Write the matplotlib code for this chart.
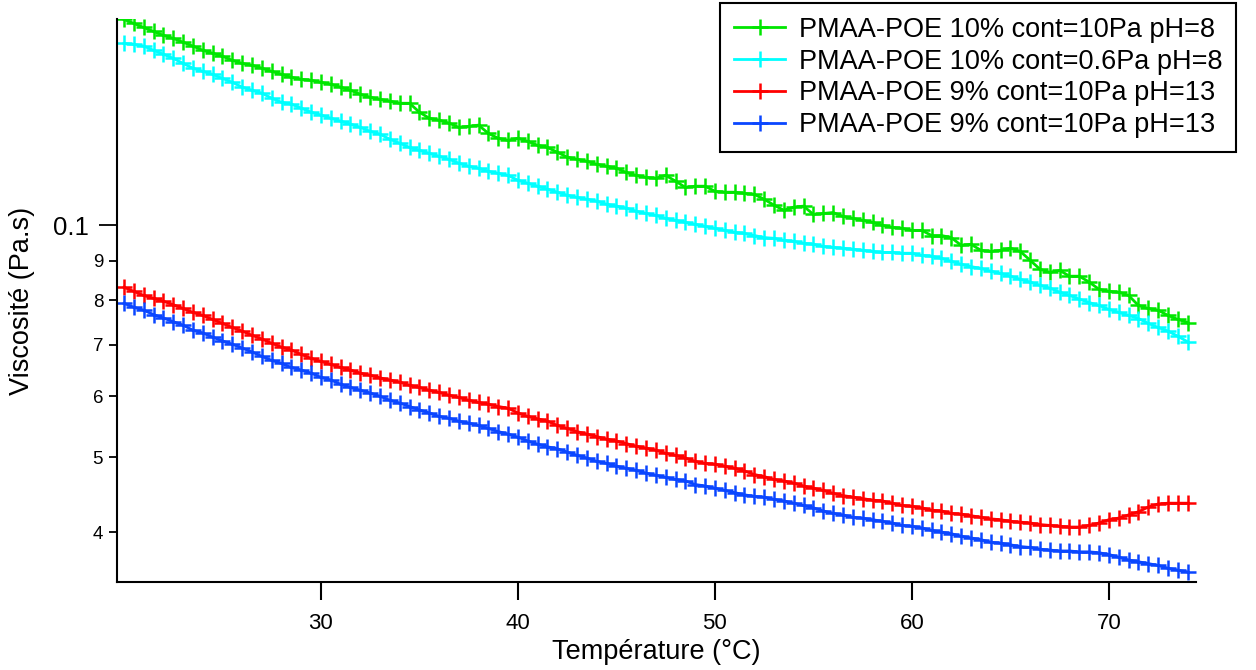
import numpy as np
import matplotlib
matplotlib.use("Agg")
import matplotlib.pyplot as plt
from matplotlib.ticker import FixedLocator, FixedFormatter, NullFormatter

plt.rcParams['font.family'] = ['Liberation Sans', 'DejaVu Sans']

# temperature (°C), one reading every 0.5 °C
temperature = [20.0, 20.5, 21.0, 21.5, 22.0, 22.5, 23.0, 23.5, 24.0, 24.5,
               25.0, 25.5, 26.0, 26.5, 27.0, 27.5, 28.0, 28.5, 29.0, 29.5,
               30.0, 30.5, 31.0, 31.5, 32.0, 32.5, 33.0, 33.5, 34.0, 34.5,
               35.0, 35.5, 36.0, 36.5, 37.0, 37.5, 38.0, 38.5, 39.0, 39.5,
               40.0, 40.5, 41.0, 41.5, 42.0, 42.5, 43.0, 43.5, 44.0, 44.5,
               45.0, 45.5, 46.0, 46.5, 47.0, 47.5, 48.0, 48.5, 49.0, 49.5,
               50.0, 50.5, 51.0, 51.5, 52.0, 52.5, 53.0, 53.5, 54.0, 54.5,
               55.0, 55.5, 56.0, 56.5, 57.0, 57.5, 58.0, 58.5, 59.0, 59.5,
               60.0, 60.5, 61.0, 61.5, 62.0, 62.5, 63.0, 63.5, 64.0, 64.5,
               65.0, 65.5, 66.0, 66.5, 67.0, 67.5, 68.0, 68.5, 69.0, 69.5,
               70.0, 70.5, 71.0, 71.5, 72.0, 72.5, 73.0, 73.5, 74.0]

# viscosities in mPa.s
visc_10pc_10pa = [185.0, 182.8, 180.6, 178.5, 176.4, 174.8, 172.8, 170.8, 168.7, 167.2,
                  165.7, 163.7, 162.2, 161.3, 159.9, 158.4, 157.0, 155.6, 154.7, 154.2,
                  153.3, 152.4, 151.1, 149.7, 147.9, 146.6, 145.7, 144.9, 144.0, 144.0,
                  140.2, 137.7, 136.9, 135.7, 134.0, 134.4, 134.9, 131.6, 129.7, 128.9,
                  129.7, 128.5, 127.0, 126.2, 124.4, 122.6, 121.8, 121.1, 120.0, 119.3,
                  118.6, 117.1, 116.1, 115.4, 115.1, 116.1, 114.1, 112.0, 112.4, 112.4,
                  110.7, 110.4, 110.4, 110.0, 109.7, 108.1, 106.2, 104.6, 105.6, 105.9,
                  103.3, 103.6, 103.9, 102.7, 102.1, 101.5, 100.9, 100.0, 99.4, 99.1,
                  98.5, 98.5, 97.0, 97.0, 96.4, 94.2, 94.5, 92.8, 92.5, 92.8,
                  93.4, 92.5, 90.1, 87.7, 86.9, 87.4, 85.9, 85.9, 84.4, 82.6,
                  82.1, 81.9, 81.1, 78.7, 78.0, 77.6, 76.4, 75.5, 74.8]

visc_10pc_06pa = [172.2, 171.7, 170.8, 168.7, 166.7, 164.7, 162.2, 159.9, 158.4, 157.0,
                  155.1, 153.3, 151.1, 149.7, 148.4, 146.2, 144.4, 143.6, 141.9, 140.2,
                  139.0, 137.7, 136.5, 135.3, 134.0, 132.4, 131.3, 129.3, 127.8, 126.2,
                  125.1, 124.0, 122.9, 121.8, 120.4, 119.3, 118.6, 117.5, 116.8, 116.1,
                  114.4, 113.4, 112.4, 111.4, 110.4, 109.4, 108.7, 108.1, 107.5, 106.5,
                  105.9, 105.3, 104.3, 103.6, 103.0, 102.1, 101.5, 100.9, 100.3, 99.7,
                  99.1, 98.5, 97.9, 97.6, 97.0, 96.4, 96.2, 95.6, 95.3, 94.8,
                  94.5, 93.9, 93.6, 93.4, 93.1, 92.8, 92.5, 92.2, 92.2, 92.0,
                  92.0, 91.4, 91.2, 90.6, 89.8, 89.0, 88.4, 87.9, 87.2, 86.6,
                  85.9, 85.1, 84.4, 83.6, 82.9, 81.9, 81.1, 80.2, 79.4, 78.7,
                  77.8, 77.1, 76.4, 75.7, 74.6, 73.7, 72.9, 71.8, 70.6]

visc_9pc_a = [83.1, 82.1, 81.1, 80.4, 79.7, 78.9, 78.0, 77.1, 76.4, 75.5,
              74.6, 73.7, 72.9, 72.0, 71.2, 70.3, 69.5, 68.9, 68.0, 67.2,
              66.6, 66.0, 65.4, 64.9, 64.3, 63.9, 63.4, 63.0, 62.6, 62.0,
              61.6, 61.1, 60.7, 60.2, 59.8, 59.3, 58.9, 58.6, 58.2, 57.9,
              57.1, 56.5, 56.1, 55.7, 55.0, 54.5, 54.0, 53.6, 53.2, 52.8,
              52.5, 52.1, 51.7, 51.4, 51.1, 50.6, 50.3, 49.9, 49.4, 49.1,
              49.0, 48.7, 48.4, 48.0, 47.5, 47.2, 46.8, 46.6, 46.3, 45.9,
              45.6, 45.3, 44.9, 44.6, 44.4, 44.2, 44.0, 43.9, 43.6, 43.3,
              43.2, 43.0, 42.7, 42.6, 42.3, 42.2, 42.0, 41.8, 41.6, 41.5,
              41.3, 41.2, 41.1, 40.9, 40.8, 40.7, 40.6, 40.6, 40.8, 41.1,
              41.5, 41.7, 42.1, 42.5, 43.1, 43.5, 43.6, 43.6, 43.6]

visc_9pc_b = [79.2, 78.3, 77.6, 76.6, 75.8, 75.0, 74.2, 73.1, 72.5, 71.6,
              70.8, 70.1, 69.3, 68.5, 67.6, 66.8, 66.2, 65.4, 64.9, 64.3,
              63.5, 63.0, 62.2, 61.6, 61.1, 60.6, 60.0, 59.3, 58.8, 58.2,
              57.6, 57.1, 56.5, 56.2, 55.7, 55.4, 55.0, 54.5, 54.0, 53.6,
              53.1, 52.5, 52.0, 51.6, 51.3, 50.8, 50.3, 49.9, 49.4, 49.1,
              48.7, 48.4, 48.1, 47.7, 47.4, 47.1, 46.8, 46.6, 46.1, 45.9,
              45.6, 45.3, 45.0, 44.7, 44.5, 44.4, 44.1, 43.9, 43.6, 43.3,
              43.0, 42.6, 42.3, 42.1, 41.8, 41.7, 41.5, 41.3, 41.1, 40.8,
              40.7, 40.5, 40.2, 40.0, 39.8, 39.5, 39.3, 39.1, 38.8, 38.7,
              38.5, 38.3, 38.2, 38.0, 37.9, 37.8, 37.8, 37.7, 37.7, 37.6,
              37.4, 37.1, 36.8, 36.6, 36.4, 36.2, 35.9, 35.7, 35.5]

labels = ['PMAA-POE 10% cont=10Pa pH=8', 'PMAA-POE 10% cont=0.6Pa pH=8',
          'PMAA-POE 9% cont=10Pa pH=13', 'PMAA-POE 9% cont=10Pa pH=13']
colors = ['#00e600', '#00ffff', '#ff0000', '#0a46ff']

minor_vals = [0.04, 0.05, 0.06, 0.07, 0.08, 0.09]
minor_labels = ['4', '5', '6', '7', '8', '9']

fig = plt.figure(figsize=(12.56, 6.70), dpi=100)
ax = fig.add_axes([0.0932, 0.1313, 0.8590, 0.8403])

series = [visc_10pc_10pa, visc_10pc_06pa, visc_9pc_a, visc_9pc_b]
for vals, lab, col in zip(series, labels, colors):
    ax.plot(temperature, np.array(vals) / 1000.0, color=col, lw=2,
            marker='+', markersize=12, markeredgewidth=1.8, label=lab)

ax.set_yscale('log')
ax.set_xlim(19.65, 74.42)
ax.set_ylim(0.03445, 0.1852)

ax.yaxis.set_major_locator(FixedLocator([0.1]))
ax.yaxis.set_major_formatter(FixedFormatter(['0.1']))
ax.yaxis.set_minor_locator(FixedLocator(minor_vals))
ax.yaxis.set_minor_formatter(FixedFormatter(minor_labels))
ax.set_xticks([30, 40, 50, 60, 70])
ax.xaxis.set_minor_formatter(NullFormatter())

for s in ['top', 'right']:
    ax.spines[s].set_visible(False)
for s in ['left', 'bottom']:
    ax.spines[s].set_linewidth(1.5)

ax.tick_params(axis='x', which='major', direction='out', length=13, width=1.5,
               labelsize=16, pad=9)
ax.tick_params(axis='y', which='major', direction='out', length=13, width=1.3,
               labelsize=18.5, pad=7)
ax.tick_params(axis='y', which='minor', direction='out', length=6, width=1.3,
               labelsize=13.5, pad=4)

ax.set_xlabel('Température (°C)', fontsize=19.5)
ax.set_ylabel('Viscosité (Pa.s)', fontsize=19.5)
ax.xaxis.set_label_coords(0.5, -0.102)
ax.yaxis.set_label_coords(-0.076, 0.5)

leg = ax.legend(loc='upper right', bbox_to_anchor=(0.984, 0.9955),
                bbox_transform=fig.transFigure, fontsize=19.5, frameon=True,
                fancybox=False, handlelength=1.9, handletextpad=0.5,
                borderpad=0.5, labelspacing=0.22, borderaxespad=0)
leg.get_frame().set_edgecolor('black')
leg.get_frame().set_linewidth(1.5)
leg.get_frame().set_alpha(1)

fig.savefig('out.png', dpi=100)
